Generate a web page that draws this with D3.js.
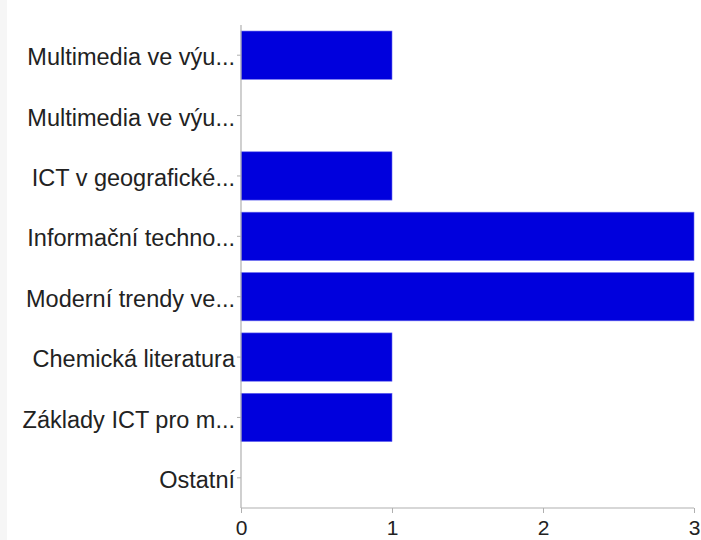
<!DOCTYPE html>
<html>
<head>
<meta charset="utf-8">
<script src="https://cdn.jsdelivr.net/npm/d3@7"></script>
<style>
  body { margin: 0; background: #fff; }
  text { font-family: "Liberation Sans", Arial, Helvetica, sans-serif; fill: #222; }
</style>
</head>
<body>
<div id="chart"></div>
<script>
"use strict";

// data
const categories = [
    "Multimedia ve výu...",
    "Multimedia ve výu...",
    "ICT v geografické...",
    "Informační techno...",
    "Moderní trendy ve...",
    "Chemická literatura",
    "Základy ICT pro m...",
    "Ostatní"
];
const values = [1, 0, 1, 3, 3, 1, 1, 0];
const xTicks = [0, 1, 2, 3];

const svgWidth = 701,
    svgHeight = 540;

const margin = { top: 25, right: 7, bottom: 32, left: 241 };

const svg = d3.select("#chart").append("svg")
    .attr("width", svgWidth)
    .attr("height", svgHeight);

// light strip on the left edge
svg.append("rect")
    .attr("x", 0).attr("y", 0)
    .attr("width", 7).attr("height", svgHeight)
    .attr("fill", "#f6f6f6");

const x = d3.scaleLinear()
    .domain([0, 3])
    .range([margin.left, 694]);

const y = d3.scaleBand()
    .domain(d3.range(categories.length))
    .range([margin.top, svgHeight - margin.bottom])
    .paddingInner(0.2)
    .paddingOuter(0.1);

// bars
svg.append("g")
    .selectAll("rect")
    .data(values)
    .enter()
    .append("rect")
    .attr("x", x(0))
    .attr("y", (d, i) => y(i))
    .attr("width", d => x(d) - x(0))
    .attr("height", y.bandwidth())
    .attr("fill", "#0000dd")
    .attr("stroke", "#6a6af0")
    .attr("stroke-width", 0.6)
    .style("display", d => d > 0 ? null : "none");

// y axis
const yAxis = svg.append("g")
    .attr("transform", "translate(" + x(0) + ",0)")
    .call(d3.axisLeft(y).tickSize(4).tickPadding(2).tickFormat(i => categories[i]));

// x axis
const xAxis = svg.append("g")
    .attr("transform", "translate(0," + (svgHeight - margin.bottom) + ")")
    .call(d3.axisBottom(x).tickValues(xTicks).tickSize(5).tickPadding(7).tickFormat(d3.format("d")));

[yAxis, xAxis].forEach(function (a) {
    a.select(".domain").attr("stroke", "#b0b0b0").attr("stroke-width", 1.2);
    a.selectAll(".tick line").attr("stroke", "#b0b0b0");
    a.selectAll("text")
        .attr("fill", "#222")
        .style("font-family", "'Liberation Sans', Arial, Helvetica, sans-serif");
});
yAxis.selectAll("text").attr("font-size", 23.5).attr("dy", "0.43em");
xAxis.selectAll("text").attr("font-size", 21);
yAxis.select(".domain").attr("d", "M0," + margin.top + "V" + (svgHeight - margin.bottom));
xAxis.select(".domain").attr("d", "M" + x(0) + ",0H" + x(3));
</script>
</body>
</html>
